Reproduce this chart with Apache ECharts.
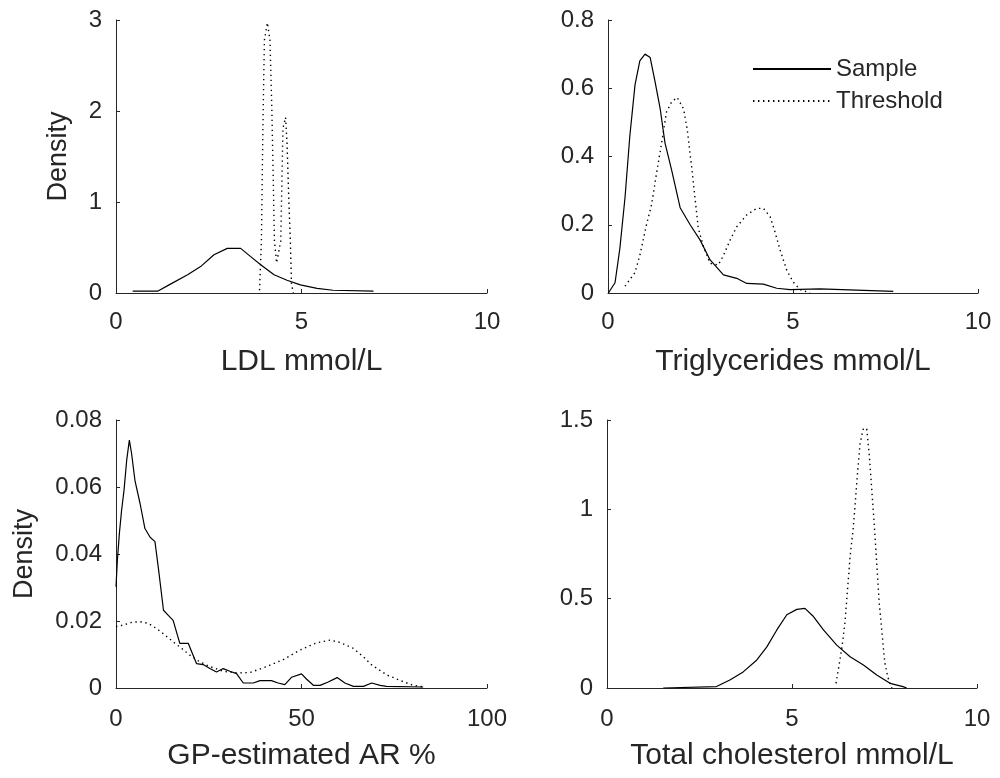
<!DOCTYPE html>
<html>
<head>
<meta charset="utf-8">
<script src="https://cdn.jsdelivr.net/npm/echarts@6/dist/echarts.min.js"></script>
<style>
html,body{margin:0;padding:0;background:#fff;}
#chart{width:1000px;height:778px;}
</style>
</head>
<body>
<div id="chart"></div>
<script>
// ---- Data ----
const seriesNames = ['Sample', 'Threshold'];
const xAxisNames = ['LDL mmol/L', 'Triglycerides mmol/L', 'GP-estimated AR %', 'Total cholesterol mmol/L'];
const yAxisName = 'Density';

// Panel 1: LDL
const ldlSampleX = [0.45, 1.12, 1.48, 1.93, 2.28, 2.64, 3.0, 3.36, 3.63, 3.9, 4.26, 4.61, 4.97, 5.42, 5.85, 6.94];
const ldlSampleY = [0.02, 0.02, 0.1, 0.2, 0.29, 0.42, 0.49, 0.49, 0.4, 0.31, 0.2, 0.14, 0.09, 0.05, 0.03, 0.02];
const ldlThreshX = [3.87, 3.92, 3.96, 4.0, 4.08, 4.15, 4.2, 4.24, 4.27, 4.33, 4.44, 4.47, 4.5, 4.57, 4.61, 4.66, 4.7, 4.73, 4.78];
const ldlThreshY = [0.03, 0.58, 1.83, 2.78, 2.97, 2.78, 2.03, 1.22, 0.57, 0.33, 0.57, 1.19, 1.81, 1.93, 1.65, 1.0, 0.57, 0.1, 0.0];

// Panel 2: Triglycerides
const tgSampleX = [0.01, 0.19, 0.32, 0.46, 0.59, 0.73, 0.86, 1.0, 1.14, 1.27, 1.41, 1.54, 1.72, 1.95, 2.22, 2.49, 2.76, 3.12, 3.48, 3.75, 4.2, 4.56, 4.92, 5.73, 7.71];
const tgSampleY = [0.0, 0.03, 0.13, 0.28, 0.46, 0.61, 0.68, 0.70, 0.69, 0.62, 0.54, 0.44, 0.36, 0.25, 0.2, 0.155, 0.097, 0.053, 0.043, 0.028, 0.026, 0.014, 0.01, 0.012, 0.005];
const tgThreshX = [0.46, 0.73, 0.86, 1.04, 1.18, 1.31, 1.45, 1.58, 1.72, 1.87, 2.04, 2.14, 2.26, 2.35, 2.44, 2.58, 2.76, 2.98, 3.12, 3.3, 3.48, 3.75, 4.02, 4.2, 4.38, 4.51, 4.65, 4.83, 5.0, 5.19, 5.46];
const tgThreshY = [0.02, 0.06, 0.11, 0.2, 0.26, 0.35, 0.44, 0.53, 0.56, 0.573, 0.54, 0.48, 0.37, 0.28, 0.19, 0.136, 0.087, 0.082, 0.11, 0.155, 0.194, 0.229, 0.248, 0.248, 0.224, 0.18, 0.126, 0.067, 0.033, 0.01, 0.0];

// Panel 3: GP-estimated AR %
const arSampleX = [0.0, 0.36, 0.9, 1.5, 2.16, 2.88, 3.6, 4.2, 5.1, 6.5, 7.8, 9.2, 10.5, 11.4, 12.8, 14.1, 15.4, 17.2, 19.5, 20.4, 21.7, 23.5, 25.3, 27.1, 28.9, 30.7, 32.5, 34.3, 37.0, 38.8, 41.9, 43.7, 45.5, 47.3, 50.0, 51.4, 53.2, 55.0, 57.2, 59.6, 61.7, 64.0, 66.7, 68.9, 71.2, 72.9, 82.8];
const arSampleY = [0.0302, 0.038, 0.046, 0.053, 0.059, 0.068, 0.074, 0.070, 0.062, 0.055, 0.0476, 0.045, 0.0437, 0.036, 0.0232, 0.0217, 0.0202, 0.0133, 0.0133, 0.0108, 0.0073, 0.007, 0.0058, 0.0048, 0.0058, 0.005, 0.0043, 0.0015, 0.0015, 0.0022, 0.0022, 0.0015, 0.001, 0.0032, 0.0042, 0.0026, 0.0008, 0.0008, 0.0018, 0.0031, 0.0015, 0.0005, 0.0005, 0.0015, 0.0008, 0.0005, 0.0003];
const arThreshX = [0, 2.0, 4.2, 6.5, 8.7, 11.0, 13.2, 15.4, 17.7, 19.9, 22.6, 25.3, 28.9, 32.5, 36.1, 40.6, 45.1, 49.6, 54.1, 57.7, 60.4, 64.0, 66.7, 68.9, 73.0, 77.4, 80.1, 82.8];
const arThreshY = [0.0183, 0.0188, 0.0196, 0.0198, 0.0193, 0.0177, 0.0158, 0.0138, 0.0118, 0.0098, 0.0078, 0.0064, 0.005, 0.0045, 0.0046, 0.0064, 0.0085, 0.0113, 0.0135, 0.0143, 0.0136, 0.0118, 0.0093, 0.0069, 0.0039, 0.0019, 0.0008, 0.0003];

// Panel 4: Total cholesterol
const tcSampleX = [1.52, 2.96, 3.32, 3.68, 4.05, 4.32, 4.59, 4.86, 5.13, 5.35, 5.58, 5.85, 6.21, 6.57, 6.93, 7.29, 7.65, 8.0, 8.1];
const tcSampleY = [0.0, 0.008, 0.045, 0.09, 0.157, 0.23, 0.325, 0.41, 0.44, 0.446, 0.4, 0.325, 0.24, 0.175, 0.129, 0.073, 0.026, 0.008, 0.0];
const tcThreshX = [6.19, 6.34, 6.43, 6.5, 6.57, 6.65, 6.71, 6.77, 6.84, 6.93, 7.02, 7.09, 7.15, 7.22, 7.29, 7.36, 7.44, 7.51, 7.59, 7.7];
const tcThreshY = [0.026, 0.213, 0.362, 0.55, 0.735, 0.885, 1.035, 1.2, 1.37, 1.453, 1.45, 1.30, 1.13, 0.92, 0.70, 0.47, 0.29, 0.14, 0.06, 0.0];

// Axis ranges / ticks
const xMax = [10, 10, 100, 10];
const xInterval = [5, 5, 50, 5];
const yMax = [3, 0.8, 0.08, 1.5];
const yInterval = [1, 0.2, 0.02, 0.5];

// ---- Build chart ----
const ink = '#262626';
const zip = (xs, ys) => xs.map((x, i) => [x, ys[i]]);
const panels = [
  [zip(ldlSampleX, ldlSampleY), zip(ldlThreshX, ldlThreshY)],
  [zip(tgSampleX, tgSampleY), zip(tgThreshX, tgThreshY)],
  [zip(arSampleX, arSampleY), zip(arThreshX, arThreshY)],
  [zip(tcSampleX, tcSampleY), zip(tcThreshX, tcThreshY)]
];

const grids = [
  {left: 116, top: 20, width: 371, height: 273},
  {left: 608, top: 20, width: 370, height: 273},
  {left: 116, top: 420, width: 371, height: 268},
  {left: 607, top: 420, width: 370, height: 268}
];

const xAxes = grids.map((g, i) => ({
  type: 'value', gridIndex: i, min: 0, max: xMax[i], interval: xInterval[i],
  name: xAxisNames[i], nameLocation: 'middle', nameGap: i < 2 ? 54 : 53,
  nameTextStyle: {fontFamily: 'Liberation Sans', fontSize: 30, color: ink},
  axisLine: {show: true, onZero: false, lineStyle: {color: ink, width: 1}},
  axisTick: {show: true, inside: true, length: 4, lineStyle: {color: ink}},
  axisLabel: {fontFamily: 'Liberation Sans', fontSize: 24, color: ink, margin: i < 2 ? 17 : 19},
  splitLine: {show: false}
}));

const yAxes = grids.map((g, i) => ({
  type: 'value', gridIndex: i, min: 0, max: yMax[i], interval: yInterval[i],
  name: (i % 2 === 0) ? yAxisName : '', nameLocation: 'middle', nameGap: i === 0 ? 44 : 78,
  nameTextStyle: {fontFamily: 'Liberation Sans', fontSize: 27, color: ink},
  axisLine: {show: true, onZero: false, lineStyle: {color: ink, width: 1}},
  axisTick: {show: true, inside: true, length: 4, lineStyle: {color: ink}},
  axisLabel: {fontFamily: 'Liberation Sans', fontSize: 24, color: ink, margin: 14},
  splitLine: {show: false}
}));

const series = [];
panels.forEach((p, i) => {
  series.push({
    name: seriesNames[0], type: 'line', xAxisIndex: i, yAxisIndex: i,
    data: p[0], symbol: 'none', showSymbol: false, smooth: false,
    lineStyle: {color: '#000', width: 1.2, type: 'solid'},
    itemStyle: {color: '#000'}, emphasis: {disabled: true}
  });
  series.push({
    name: seriesNames[1], type: 'line', xAxisIndex: i, yAxisIndex: i,
    data: p[1], symbol: 'none', showSymbol: false, smooth: false,
    lineStyle: {color: '#000', width: 1.4, type: [1.4, 3.6]},
    itemStyle: {color: '#000'}, emphasis: {disabled: true}
  });
});

const chart = echarts.init(document.getElementById('chart'), null, {renderer: 'canvas'});
chart.setOption({
  animation: false,
  backgroundColor: '#fff',
  grid: grids.map(g => Object.assign({containLabel: false}, g)),
  xAxis: xAxes,
  yAxis: yAxes,
  legend: {
    data: seriesNames, orient: 'vertical', left: 747, top: 52,
    itemWidth: 78, itemHeight: 14, itemGap: 8,
    textStyle: {fontFamily: 'Liberation Sans', fontSize: 24, color: ink, lineHeight: 23},
    itemStyle: {opacity: 0},
    selectedMode: false
  },
  series: series
});
</script>
</body>
</html>
